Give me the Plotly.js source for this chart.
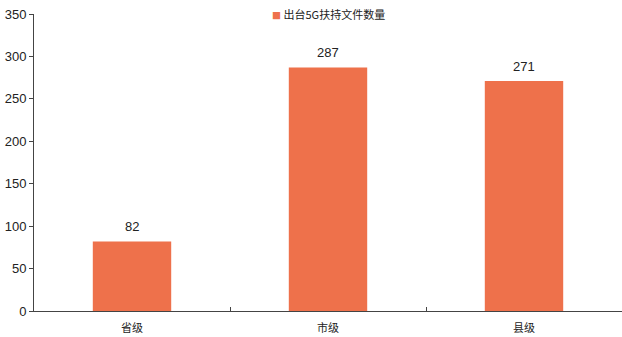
<!DOCTYPE html>
<html>
<head>
<meta charset="utf-8">
<script src="https://cdn.plot.ly/plotly-3.0.1.min.js"></script>
<style>
  html, body { margin: 0; padding: 0; background: #fff; }
  #chart { width: 622px; height: 337px; }
</style>
</head>
<body>
<div id="chart"></div>
<script>
// Number of 5G support policy documents issued, by government level
const categories = ["省级", "市级", "县级"];
const docCounts = [82, 287, 271];
const seriesName = "出台5G扶持文件数量";
const yTickValues = [0, 50, 100, 150, 200, 250, 300, 350];

const barColor = "#EE714B";
const numFont = "'Liberation Sans Narrow', 'Arial Narrow', 'Liberation Sans', Arial, sans-serif";
const cjkFont = "'Noto Sans CJK SC', 'Noto Sans', sans-serif";

const trace = {
  type: "bar",
  x: categories,
  y: docCounts,
  name: seriesName,
  width: 0.4,
  marker: { color: barColor },
  showlegend: false,
  hoverinfo: "x+y"
};

// value labels sit a little above each bar
const valueLabels = categories.map((c, i) => ({
  x: c,
  y: docCounts[i],
  xref: "x",
  yref: "y",
  text: String(docCounts[i]),
  showarrow: false,
  yanchor: "bottom",
  yshift: 5,
  font: { family: numFont, size: 13, color: "#222" }
}));

// compact legend: small square swatch followed by the series name
const legendNote = {
  xref: "paper",
  yref: "paper",
  x: 0.402,
  y: 1.0,
  xanchor: "left",
  yanchor: "middle",
  showarrow: false,
  text: '<span style="color:' + barColor + ';font-size:9px">■</span> ' + seriesName,
  font: { family: cjkFont, size: 11, color: "#222" }
};

const layout = {
  width: 622,
  height: 337,
  margin: { l: 34, r: 0, t: 14, b: 26 },
  paper_bgcolor: "#fff",
  plot_bgcolor: "#fff",
  showlegend: false,
  annotations: valueLabels.concat([legendNote]),
  xaxis: {
    type: "category",
    range: [-0.5, 2.5],
    showline: true,
    linecolor: "#444",
    linewidth: 1,
    ticks: "inside",
    tickson: "boundaries",
    ticklen: 4,
    tickcolor: "#444",
    showgrid: false,
    zeroline: false,
    ticklabelstandoff: 7,
    tickfont: { family: cjkFont, size: 11, color: "#222" }
  },
  yaxis: {
    range: [0, 350],
    tickvals: yTickValues,
    showline: true,
    linecolor: "#444",
    linewidth: 1,
    ticks: "outside",
    ticklen: 4,
    tickcolor: "#444",
    showgrid: false,
    zeroline: false,
    tickfont: { family: numFont, size: 13, color: "#222" }
  }
};

Plotly.newPlot("chart", [trace], layout, { displayModeBar: false, staticPlot: true });
</script>
</body>
</html>
